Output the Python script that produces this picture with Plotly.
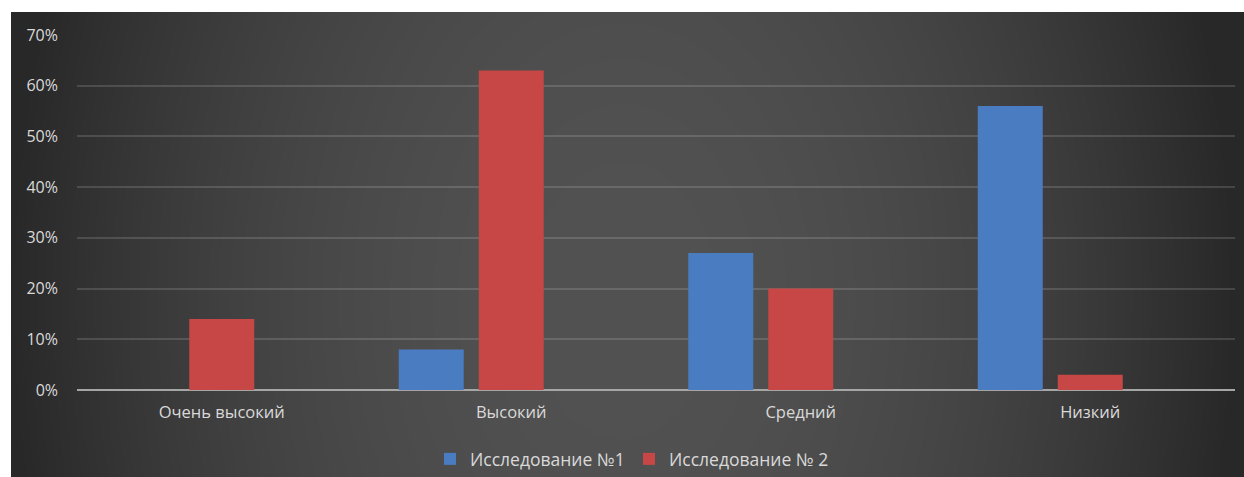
import base64
import struct
import zlib

import numpy as np
import plotly.graph_objects as go

categories = ["Очень высокий", "Высокий", "Средний", "Низкий"]
study1 = [None, 0.08, 0.27, 0.56]
study2 = [0.14, 0.63, 0.20, 0.03]
spacer = [None, None, None, None]  # empty third series (keeps Excel's slot layout)
tick_vals = [0, 0.1, 0.2, 0.3, 0.4, 0.5, 0.6, 0.7]
tick_text = ["0%", "10%", "20%", "30%", "40%", "50%", "60%", "70%"]

W, H = 1244, 477
L, R, T, B = 77, 9, 35, 87
PW, PH = W - L - R, H - T - B
PANEL_X0, PANEL_Y0 = 11, 12


def px(x):
    return (x - L) / PW


def py(y):
    return (H - B - y) / PH


def gray_png(arr):
    h, w = arr.shape
    raw = b"".join(b"\x00" + arr[i].tobytes() for i in range(h))

    def chunk(tag, data):
        return (struct.pack(">I", len(data)) + tag + data
                + struct.pack(">I", zlib.crc32(tag + data) & 0xFFFFFFFF))

    return (b"\x89PNG\r\n\x1a\n"
            + chunk(b"IHDR", struct.pack(">IIBBBBB", w, h, 8, 0, 0, 0, 0))
            + chunk(b"IDAT", zlib.compress(raw, 9))
            + chunk(b"IEND", b""))


# background panel: soft radial gradient (light centre, dark sides)
pw, ph = W - PANEL_X0, H - PANEL_Y0
xx = np.arange(pw)[None, :] + PANEL_X0
yy = np.arange(ph)[:, None] + PANEL_Y0
d2 = ((xx - 622) / 615.0) ** 2 + ((yy - 300) / 900.0) ** 2
bg = 40 + 42 * np.clip(1 - d2, 0, 1)
bg_png = gray_png(np.clip(bg, 0, 255).astype(np.uint8))
bg_uri = "data:image/png;base64," + base64.b64encode(bg_png).decode()

font = "Open Sans, Noto Sans, DejaVu Sans, sans-serif"

fig = go.Figure()
fig.add_trace(go.Bar(x=categories, y=study1, name="Исследование №1",
                     marker=dict(color="#4a7cc1", line=dict(width=0))))
fig.add_trace(go.Bar(x=categories, y=study2, name="Исследование № 2",
                     marker=dict(color="#c64745", line=dict(width=0))))
fig.add_trace(go.Bar(x=categories, y=spacer, name="", showlegend=False,
                     hoverinfo="skip"))

fig.add_layout_image(dict(source=bg_uri, xref="paper", yref="paper",
                          x=px(PANEL_X0), y=py(PANEL_Y0),
                          sizex=px(W) - px(PANEL_X0), sizey=py(PANEL_Y0) - py(H),
                          xanchor="left", yanchor="top", sizing="stretch",
                          layer="below"))

fig.update_layout(
    width=W, height=H,
    margin=dict(l=L, r=R, t=T, b=B, pad=0),
    paper_bgcolor="white",
    plot_bgcolor="rgba(0,0,0,0)",
    barmode="group",
    bargap=0.171,
    bargroupgap=0.1875,
    font=dict(family=font, color="#d9d9d9", size=16),
    showlegend=True,
    legend=dict(orientation="h", x=0.5 - 27 / PW, xanchor="center",
                yref="container", y=1 - 459 / H, yanchor="middle",
                font=dict(size=17.5, color="#d9d9d9"), bgcolor="rgba(0,0,0,0)",
                itemwidth=30, traceorder="normal", entrywidth=154),
    xaxis=dict(showgrid=False, showline=False, ticks="", zeroline=False,
               tickfont=dict(size=16.5, color="#d9d9d9"), ticklabelstandoff=10,
               range=[-0.5, 3.5]),
    yaxis=dict(range=[0, 0.7], tickvals=tick_vals, ticktext=tick_text,
               showgrid=True, gridcolor="rgba(255,255,255,0.14)", gridwidth=1.6,
               zeroline=True, zerolinecolor="#a6a6a6", zerolinewidth=2,
               showline=False, ticks="", ticklabelstandoff=18,
               tickfont=dict(size=16, color="#d9d9d9")),
)

fig.write_html("out.html", config={"displayModeBar": False},
               post_script="document.body.style.margin='0';")
